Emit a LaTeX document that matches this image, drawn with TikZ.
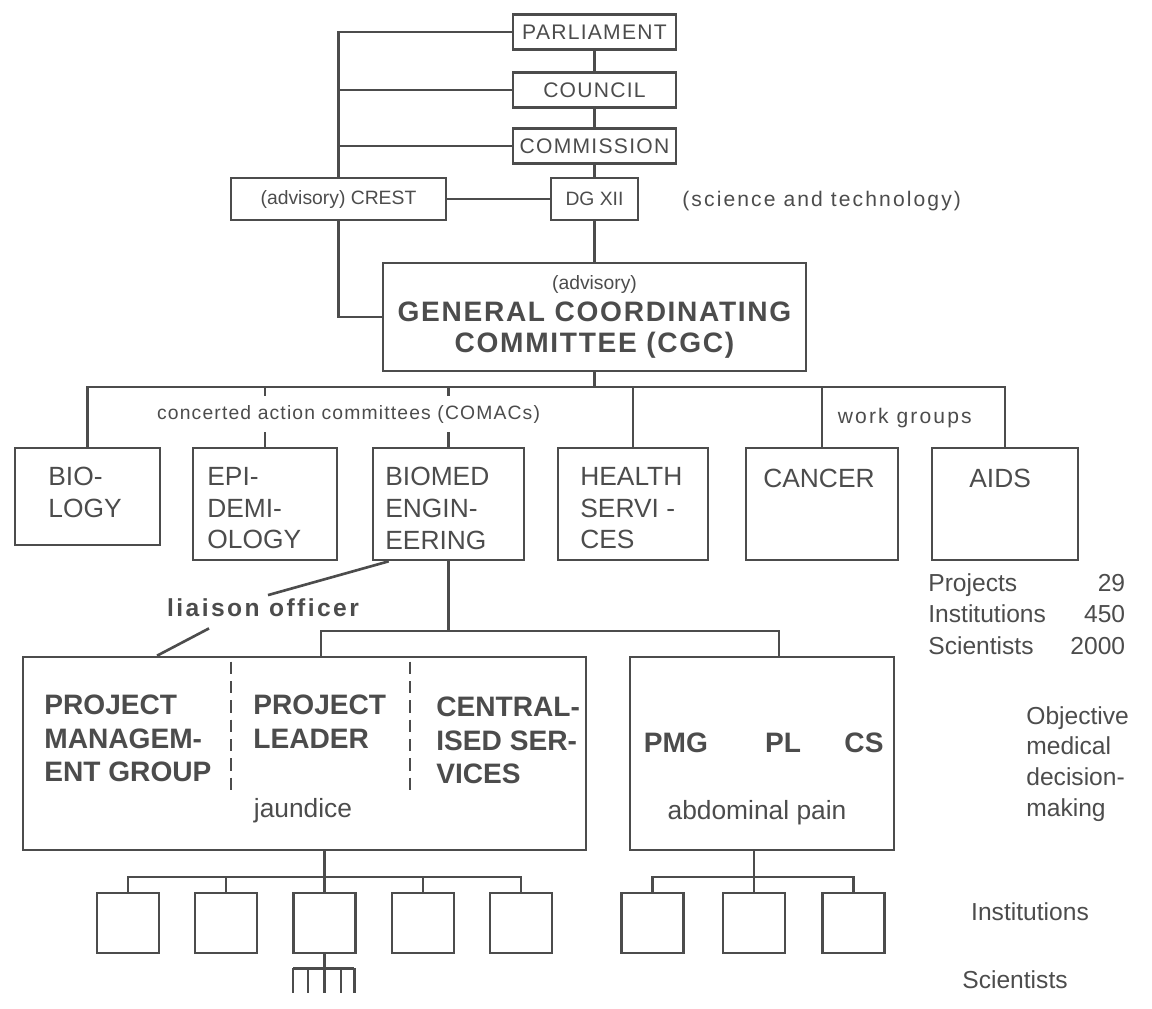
\documentclass[tikz,border=0pt]{standalone}
\usepackage{fontspec}
\setmainfont{Liberation Sans}
\newfontfamily\spaced[LetterSpace=6]{Liberation Sans}
\newfontfamily\wider[LetterSpace=10]{Liberation Sans}
\usepackage{tikz}
\usetikzlibrary{calc}
\definecolor{ink}{gray}{0.3}
\tikzstyle{unit} = [draw=ink, line width=1.5pt, inner sep=0pt,
	minimum width=3.26cm, minimum height=0.7cm,
	font=\spaced\fontsize{12}{14}\selectfont]
\tikzstyle{comac} = [draw=ink, line width=1.5pt, minimum height=2.24cm]
\tikzstyle{inst} = [draw=ink, line width=1.5pt,
	minimum width=1.24cm, minimum height=1.2cm]
\tikzstyle{boxtext} = [anchor=north west, align=left, inner sep=0pt,
	font=\fontsize{15}{18}\selectfont]
\tikzstyle{bigtext} = [anchor=north west, align=left, inner sep=0pt,
	font=\bfseries\fontsize{16}{19}\selectfont]
\tikzstyle{note} = [inner sep=0pt, font=\fontsize{14}{17.5}\selectfont]
\tikzstyle{link} = [draw=ink, line width=1.5pt]
\newcommand{\dropline}[2]{\draw[link] (#1.north) -- (#1.north |- #2)}

\begin{document}
\begin{tikzpicture}[x=0.02cm, y=-0.02cm, every node/.style={text=ink}]
	\useasboundingbox (0,0) rectangle (1152,1008);
	
	% top of the hierarchy
	\node (parl) [unit] at (594.5,32) {PARLIAMENT};
	\node (council) [unit] at (594.5,90) {COUNCIL};
	\node (comm) [unit] at (594.5,146) {COMMISSION};
	\node (dg) [unit, minimum width=1.74cm, minimum height=0.84cm,
		font=\fontsize{11}{13}\selectfont] at (594.5,199) {DG XII};
	\node (crest) [unit, minimum width=4.3cm, minimum height=0.84cm,
		font=\fontsize{11}{13}\selectfont] at (338.5,199) {(advisory) CREST};
	\node (st) [anchor=base west, inner sep=0pt,
		font=\wider\fontsize{12}{14}\selectfont] at (682,206) {(science and technology)};
	\draw[link] (parl) -- (council) -- (comm) -- (dg);
	\draw[link] (crest) -- (dg);
	\draw[link] (crest.north) |- (parl.west);
	\draw[link] (crest.north |- council.west) -- (council.west);
	\draw[link] (crest.north |- comm.west) -- (comm.west);
	
	\node (cgc) [draw=ink, line width=1.5pt, minimum width=8.46cm,
		minimum height=2.16cm, align=center,
		font=\spaced\bfseries\fontsize{16}{18}\selectfont] at (594.5,317)
		{{\rmfamily\mdseries\fontsize{11}{18}\selectfont (advisory)}\\GENERAL COORDINATING\\COMMITTEE (CGC)};
	\draw[link] (crest.south) |- (cgc.west);
	\draw[link] (dg) -- (cgc);
	
	% committees and work groups
	\coordinate (bus1) at (594.5,387);
	\node (bio) [comac, minimum width=2.9cm, minimum height=1.94cm] at (87.5,496.5) {};
	\node (epi) [comac, minimum width=2.88cm] at (265,504) {};
	\node (biomed) [comac, minimum width=3.02cm] at (448.5,504) {};
	\node (health) [comac, minimum width=3.0cm] at (633,504) {};
	\node (cancer) [comac, minimum width=3.04cm] at (822,504) {};
	\node (aids) [comac, minimum width=2.92cm] at (1005,504) {};
	\draw[link] (cgc) -- (bus1);
	\draw[link] (bio.north) |- (bus1) -| (aids.north);
	\foreach \n in {epi,biomed,health,cancer} {\dropline{\n}{bus1};}
	
	\node (bioT) [boxtext] at (48,467) {BIO-\\LOGY};
	\node (epiT) [boxtext] at (207,467) {EPI-\\DEMI-\\OLOGY};
	\node (biomedT) [boxtext] at (385,467) {BIOMED\\ENGIN-\\EERING};
	\node (healthT) [boxtext] at (580,467) {HEALTH\\SERVI -\\CES};
	\node (cancerT) [boxtext] at (763,469) {CANCER};
	\node (aidsT) [boxtext] at (969,469) {AIDS};
	\node (comacs) [anchor=base west, fill=white, inner xsep=1pt, inner ysep=5pt,
		font=\spaced\fontsize{11}{13}\selectfont] at (155,419) {concerted action committees (COMACs)};
	\node (wg) [anchor=base east, inner sep=0pt,
		font=\wider\fontsize{12}{14}\selectfont] at (972,423) {work groups};
	\node (stats) [note, anchor=north west, align=left,
		font=\fontsize{14}{18}\selectfont] at (928,573)
		{\makebox[112pt]{Projects\hfill 29}\\\makebox[112pt]{Institutions\hfill 450}\\\makebox[112pt]{Scientists\hfill 2000}};
	
	% projects
	\node (bigL) [draw=ink, line width=1.5pt, minimum width=11.26cm,
		minimum height=3.86cm] at (304.5,753.5) {};
	\node (bigR) [draw=ink, line width=1.5pt, minimum width=5.28cm,
		minimum height=3.86cm] at (762,753.5) {};
	\coordinate (bus2) at (448.5,631);
	\draw[link] (biomed.south) -- (bus2);
	\draw[link] ([xshift=0.33cm]bigL.north) |- (bus2) -| ([xshift=0.34cm]bigR.north);
	
	\node (liaison) [inner sep=2pt, font=\wider\bfseries\fontsize{14}{17}\selectfont]
		at (263,608) {liaison officer};
	\draw[link] ([xshift=0.34cm]biomed.south west) -- ([xshift=0.1cm]liaison.north);
	\draw[link] ([xshift=-1.08cm, yshift=-0.15cm]liaison.south) -- ([xshift=-2.95cm]bigL.north);
	
	\draw[link, line width=1.2pt, dash pattern=on 7pt off 4pt]
		($(bigL.north west)+(209,6)$) -- ++(0,130);
	\draw[link, line width=1.2pt, dash pattern=on 7pt off 4pt]
		($(bigL.north west)+(388,6)$) -- ++(0,130);
	\node (pmgT) [bigtext] at (44,695) {PROJECT\\MANAGEM-\\ENT GROUP};
	\node (plT) [bigtext] at (253,695) {PROJECT\\LEADER};
	\node (csT) [bigtext] at (436,697) {CENTRAL-\\ISED SER-\\VICES};
	\node (jaun) [anchor=base, inner sep=0pt, font=\fontsize{15}{18}\selectfont]
		at (303,817) {jaundice};
	
	\node (pmg) [inner sep=0pt, font=\bfseries\fontsize{16}{19}\selectfont] at (676,743) {PMG};
	\node (pl) [inner sep=0pt, font=\bfseries\fontsize{16}{19}\selectfont] at (783,743) {PL};
	\node (cs) [inner sep=0pt, font=\bfseries\fontsize{16}{19}\selectfont] at (864,743) {CS};
	\node (abd) [anchor=base, inner sep=0pt, font=\fontsize{15}{18}\selectfont]
		at (757,819) {abdominal pain};
	\node (omd) [note, anchor=north west, align=left] at (1026,706)
		{Objective\\medical\\decision-\\making};
	
	% institutions and scientists
	\foreach \i/\x in {1/128,2/226,3/324.5,4/423,5/521}
		\node (iL\i) [inst] at (\x,923) {};
	\foreach \i/\x in {1/652.5,2/754,3/853.5}
		\node (iR\i) [inst] at (\x,923) {};
	\coordinate (busL) at (324.5,877);
	\coordinate (busR) at (754,877);
	\draw[link] (bigL.south -| iL3.north) -- (iL3.north);
	\draw[link] (iL1.north) |- (busL) -| (iL5.north);
	\foreach \i in {2,4} {\dropline{iL\i}{busL};}
	\draw[link] (bigR.south -| iR2.north) -- (iR2.north);
	\draw[link] (iR1.north) |- (busR) -| (iR3.north);
	
	\draw[link] (iL3.south) -- ++(0,14) coordinate (fork);
	\draw[link] ([xshift=-0.63cm]fork) -- ([xshift=0.6cm]fork);
	\foreach \dx in {-0.63,-0.33,0,0.33,0.6}
		\draw[link] ([xshift=\dx cm]fork) -- ++(0,25);
	
	\node (instT) [note] at (1030,912) {Institutions};
	\node (sciT) [note] at (1015,980) {Scientists};
\end{tikzpicture}
\end{document}
